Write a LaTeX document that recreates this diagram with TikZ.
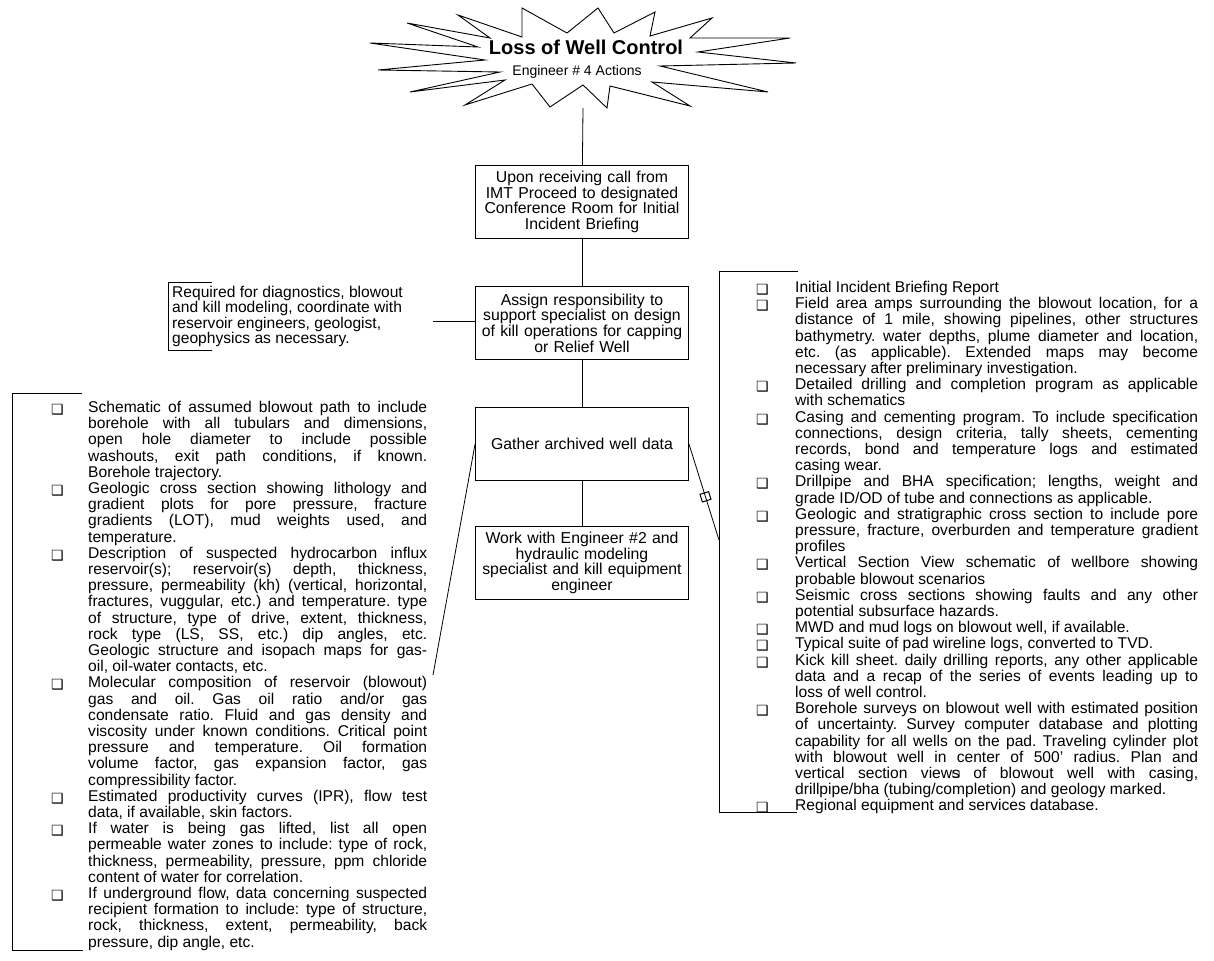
\documentclass[tikz,border=0pt]{standalone}
\usepackage{fontspec}
\setmainfont{Liberation Sans}
\newfontfamily\symf{DejaVu Sans}
\usetikzlibrary{positioning}

\newcommand{\chk}{{\symf\fontsize{14}{14}\selectfont\raisebox{-2pt}{❑}}}
\newenvironment{chklist}[1]{%
  \begin{list}{\chk}{%
    \setlength{\leftmargin}{#1}\setlength{\labelwidth}{#1}%
    \setlength{\labelsep}{0pt}\setlength{\itemsep}{0pt}%
    \setlength{\parsep}{0pt}\setlength{\topsep}{0pt}%
    \setlength{\partopsep}{0pt}\setlength{\itemindent}{0pt}%
    \def\makelabel##1{##1\hfil}}}%
  {\end{list}}

\begin{document}
\begin{tikzpicture}[x=1pt,y=-1pt]

    \tikzset{
      stepbox/.style={
        draw,
        line width=0.9pt,
        text width=205pt,
        align=center,
        minimum width=213pt,
        minimum height=73pt,
        inner sep=3pt,
        font=\fontsize{15.8}{15.6}\selectfont,
      },
      lst/.style={
        anchor=north west,
        inner sep=0pt,
        text width=#1,
        align=justify,
        font=\fontsize{15.6}{16.2}\selectfont\frenchspacing,
        execute at begin node={\tolerance=9999\hyphenpenalty=10000\parskip=0pt},
      },
      note/.style={anchor=north west, inner sep=0pt, align=left,
        font=\fontsize{15.6}{15.3}\selectfont},
      headline/.style={anchor=base, inner sep=0pt, font=\bfseries\fontsize{20}{22}\selectfont},
      subline/.style={anchor=base, inner sep=0pt, font=\fontsize{14}{16}\selectfont},
      link/.style={line width=0.8pt},
      bracket/.style={line width=0.9pt},
      burst/.style={line width=0.9pt, line join=miter},
      tickbox/.style={draw, line width=1pt, minimum width=8pt, minimum height=9pt, inner sep=0pt},
    }
    \useasboundingbox (0,0) rectangle (1214,960);

	% starburst heading
	\draw[burst] (458,15) -- (522,37) -- (522,8) -- (567,33) -- (598,8) -- (614,33)
	  -- (655,12) -- (650,36) -- (712,18) -- (690,38) -- (790,38) -- (698,52)
	  -- (796,63) -- (660,66) -- (768,92) -- (652,82) -- (690,106) -- (610,86)
	  -- (607,108) -- (583,85) -- (550,107) -- (532,84) -- (465,105) -- (505,80)
	  -- (410,92) -- (500,72) -- (378,70) -- (485,60) -- (370,43) -- (478,47)
	  -- (407,23) -- (490,38) -- cycle;
	\node[headline] (headline) at (586,55) {Loss of Well Control};
	\node[subline] (subline) at (577,76) {Engineer \# 4 Actions};
	\coordinate (burst) at (583,108);

	% center column
	\node[stepbox] (upon) at (582,202) {Upon receiving call from\\ IMT Proceed to designated\\ Conference Room for Initial\\ Incident Briefing};
	\node[stepbox] (assign) at (582,323) {Assign responsibility to\\ support specialist on design\\ of kill operations for capping\\ or Relief Well};
	\node[stepbox] (gather) at (582,444) {Gather archived well data};
	\node[stepbox] (work) at (582,563) {Work with Engineer \#2 and\\ hydraulic modeling\\ specialist and kill equipment\\ engineer};

	\draw[link] (burst) -- (upon);
	\draw[link] (upon) -- (assign);
	\draw[link] (assign) -- (gather);
	\draw[link] (gather) -- (work);

	% note
	\node[note] (note) at (172,286) {Required for diagnostics, blowout\\ and kill modeling, coordinate with\\ reservoir engineers, geologist,\\ geophysics as necessary.};
	\draw[bracket] (212,282) -- (168,282) -- (168,350) -- (212,350);
	\coordinate (nhook) at (433,321);
	\draw[link] (nhook) -- (nhook -| assign.west);

	% left list
	\node[lst=376pt] (leftlist) at (51,396) {\begin{chklist}{37pt}
	\item Schematic of assumed blowout path to include\linebreak borehole with all tubulars and dimensions,\linebreak open hole diameter to include possible\linebreak washouts, exit path conditions, if known.\linebreak Borehole trajectory.
	\item Geologic cross section showing lithology and\linebreak gradient plots for pore pressure, fracture\linebreak gradients (LOT), mud weights used, and\linebreak temperature.
	\item Description of suspected hydrocarbon influx\linebreak reservoir(s); reservoir(s) depth, thickness,\linebreak pressure, permeability (kh) (vertical, horizontal,\linebreak fractures, vuggular, etc.) and temperature. type\linebreak of structure, type of drive, extent, thickness,\linebreak rock type (LS, SS, etc.) dip angles, etc.\linebreak Geologic structure and isopach maps for gas-\linebreak oil, oil-water contacts, etc.
	\item Molecular composition of reservoir (blowout)\linebreak gas and oil. Gas oil ratio and/or gas\linebreak condensate ratio. Fluid and gas density and\linebreak viscosity under known conditions. Critical point\linebreak pressure and temperature. Oil formation\linebreak volume factor, gas expansion factor, gas\linebreak compressibility factor.
	\item Estimated productivity curves (IPR), flow test\linebreak data, if available, skin factors.
	\item If water is being gas lifted, list all open\linebreak permeable water zones to include: type of rock,\linebreak thickness, permeability, pressure, ppm chloride\linebreak content of water for correlation.
	\item If underground flow, data concerning suspected\linebreak recipient formation to include: type of structure,\linebreak rock, thickness, extent, permeability, back\linebreak pressure, dip angle, etc.
	\end{chklist}};
	\draw[bracket] (82,393) -- (12,393) -- (12,950) -- (83,950);
	\coordinate (lhook) at (433,675);
	\draw[link] (gather.west) -- (lhook);

	% right list
	\node[lst=442pt] (rightlist) at (756,276) {\begin{chklist}{39pt}
	\item Initial Incident Briefing Report
	\item Field area amps surrounding the blowout location, for a\linebreak distance of 1 mile, showing pipelines, other structures\linebreak bathymetry. water depths, plume diameter and location,\linebreak etc. (as applicable). Extended maps may become\linebreak necessary after preliminary investigation.
	\item Detailed drilling and completion program as applicable\linebreak with schematics
	\item Casing and cementing program. To include specification\linebreak connections, design criteria, tally sheets, cementing\linebreak records, bond and temperature logs and estimated\linebreak casing wear.
	\item Drillpipe and BHA specification; lengths, weight and\linebreak grade ID/OD of tube and connections as applicable.
	\item Geologic and stratigraphic cross section to include pore\linebreak pressure, fracture, overburden and temperature gradient\linebreak profiles
	\item Vertical Section View schematic of wellbore showing\linebreak probable blowout scenarios
	\item Seismic cross sections showing faults and any other\linebreak potential subsurface hazards.
	\item MWD and mud logs on blowout well, if available.
	\item Typical suite of pad wireline logs, converted to TVD.
	\item Kick kill sheet. daily drilling reports, any other applicable\linebreak data and a recap of the series of events leading up to\linebreak loss of well control.
	\item Borehole surveys on blowout well with estimated position\linebreak of uncertainty. Survey computer database and plotting\linebreak capability for all wells on the pad. Traveling cylinder plot\linebreak with blowout well in center of 500' radius. Plan and\linebreak vertical section view\rlap{\raisebox{0.5pt}{\symf\fontsize{9}{9}\selectfont ❑}}s of blowout well with casing,\linebreak drillpipe/bha (tubing/completion) and geology marked.
	\item Regional equipment and services database.
	\end{chklist}};
	\draw[bracket] (798,271) -- (719,271) -- (719,812) -- (797,812);
	\coordinate (rhook) at (719,540);
	\draw[link] (gather.east) -- node[tickbox, sloped, pos=0.55] {} (rhook);

\end{tikzpicture}
\end{document}
